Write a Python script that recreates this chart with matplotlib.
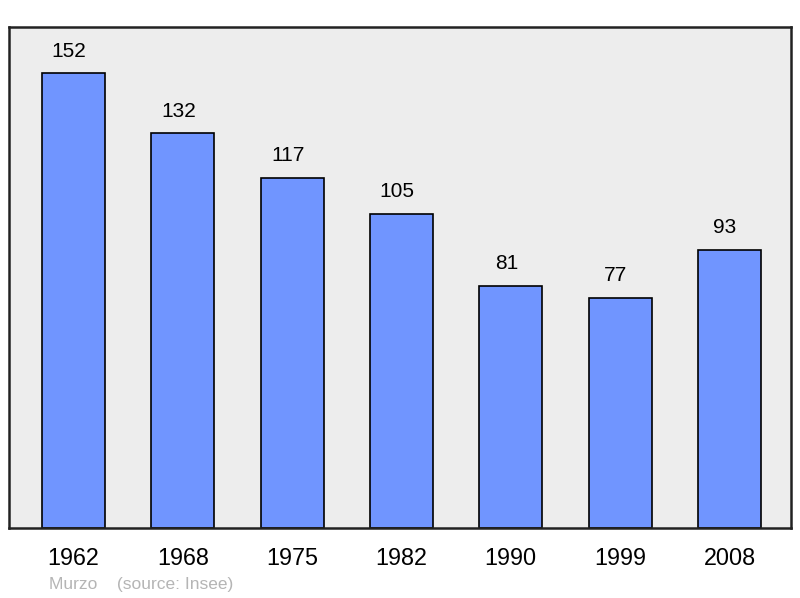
import numpy as np
import matplotlib
import matplotlib.pyplot as plt

matplotlib.use('agg')
plt.rcParams['font.family'] = ['Liberation Sans', 'DejaVu Sans']

years = ['1962', '1968', '1975', '1982', '1990', '1999', '2008']
population = [152, 132, 117, 105, 81, 77, 93]

fig = plt.figure(figsize=(8, 5.98), dpi=100)
ax = fig.add_axes([9/800, 1 - 528/598, 782/800, 501/598])
ax.set_facecolor('#ededed')

x = np.arange(len(years))
ax.bar(x, population, width=0.577, color='#7095ff', edgecolor='black', linewidth=1.2, zorder=2)

for xi, v in zip(x, population):
    ax.text(xi - 0.04, v + 7.3, str(v), ha='center', va='center', fontsize=15)

ax.set_xlim(-0.59, 6.563)
ax.set_ylim(0, 167.4)
ax.set_xticks(x)
ax.set_xticklabels(years, fontsize=16.8)
ax.tick_params(axis='x', length=0, pad=14)
ax.set_yticks([])
for s in ax.spines.values():
    s.set_linewidth(1.8)
    s.set_color('#222222')

fig.text(49/800, 1 - 584/598, 'Murzo    (source: Insee)', color='#b5b5b5', fontsize=12.5, va='center')

fig.savefig('out.png', dpi=100)
